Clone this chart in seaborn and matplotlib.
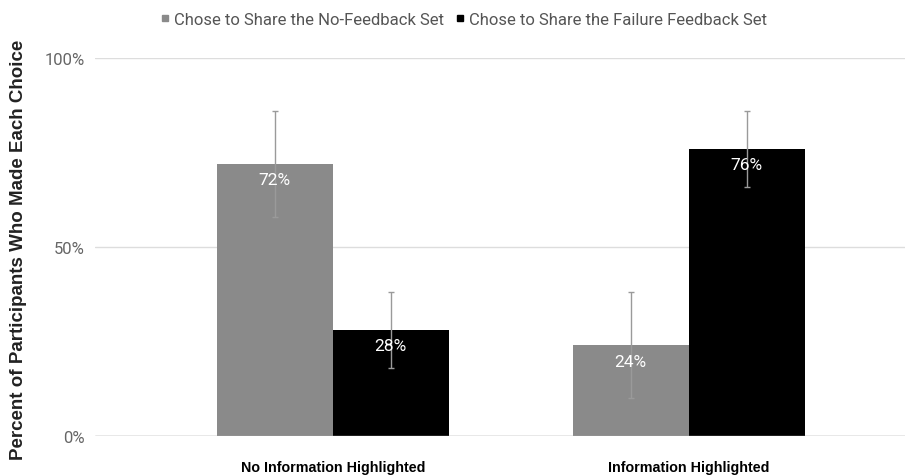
import numpy as np
import pandas as pd
import matplotlib
matplotlib.use("Agg")
import matplotlib.pyplot as plt
import seaborn as sns

# data
groups = ["No Information Highlighted", "Information Highlighted"]
series = ["Chose to Share the No-Feedback Set", "Chose to Share the Failure Feedback Set"]
no_feedback = [0.72, 0.24]
failure_feedback = [0.28, 0.76]
no_feedback_err = [0.14, 0.14]
failure_feedback_err = [0.10, 0.10]
colors = ["#8a8a8a", "#000000"]

df = pd.DataFrame({
    "group": groups * 2,
    "series": [series[0]] * 2 + [series[1]] * 2,
    "value": no_feedback + failure_feedback,
    "err": no_feedback_err + failure_feedback_err,
})

sns.set_style("white")
plt.rcParams["font.family"] = ["Roboto", "DejaVu Sans"]

fig = plt.figure(figsize=(9.11, 4.77), dpi=100)
ax = fig.add_axes([0.104, 0.084, 0.889, 0.792])

sns.barplot(data=df, x="group", y="value", hue="series", palette=colors,
            width=0.652, saturation=1, errorbar=None, ax=ax, legend=False,
            edgecolor="none")

# error bars + value labels on each bar
for i, s in enumerate(series):
    sub = df[df["series"] == s]
    cont = ax.containers[i]
    for bar, (_, row) in zip(cont, sub.iterrows()):
        cx = bar.get_x() + bar.get_width() / 2
        ax.errorbar(cx, row["value"], yerr=row["err"], fmt="none",
                    ecolor="#9a9a9a", elinewidth=1, capsize=2.5, capthick=1, zorder=3)
        ax.text(cx, row["value"] - 0.022, f"{row['value']:.0%}", color="white",
                ha="center", va="top", fontsize=12.5, zorder=4)

ax.set_ylim(0, 1.0)
ax.set_xlim(-0.669, 1.607)
ax.set_yticks([0, 0.5, 1.0])
ax.set_yticklabels(["0%", "50%", "100%"], color="#666666", fontsize=12)
ax.tick_params(axis="y", length=0, pad=7)
ax.tick_params(axis="x", length=0, pad=17)
for lab in ax.get_xticklabels():
    lab.set_fontfamily(["Liberation Sans", "DejaVu Sans"])
    lab.set_fontweight("bold")
    lab.set_fontsize(10.3)
    lab.set_color("black")
ax.set_xlabel("")
ax.set_ylabel("Percent of Participants Who Made Each Choice",
              fontfamily=["Liberation Sans", "DejaVu Sans"], fontweight="bold",
              fontsize=13.5, color="#222222")
ax.yaxis.set_label_coords(-0.084, 0.495)

ax.grid(axis="y", color="#dddddd", linewidth=1)
ax.set_axisbelow(True)
for sp in ax.spines.values():
    sp.set_visible(False)
ax.axhline(0, color="#aaaaaa", linewidth=1, zorder=1)

handles = [plt.Line2D([], [], marker="s", linestyle="none", color=c, markersize=4)
           for c in colors]
fig.legend(handles, series, loc="center", bbox_to_anchor=(0.508, 0.958), ncol=2,
           frameon=False, fontsize=12, handletextpad=0.1, columnspacing=0.6,
           labelcolor="#555555", handlelength=0.8)

fig.savefig("out.png", dpi=100)
